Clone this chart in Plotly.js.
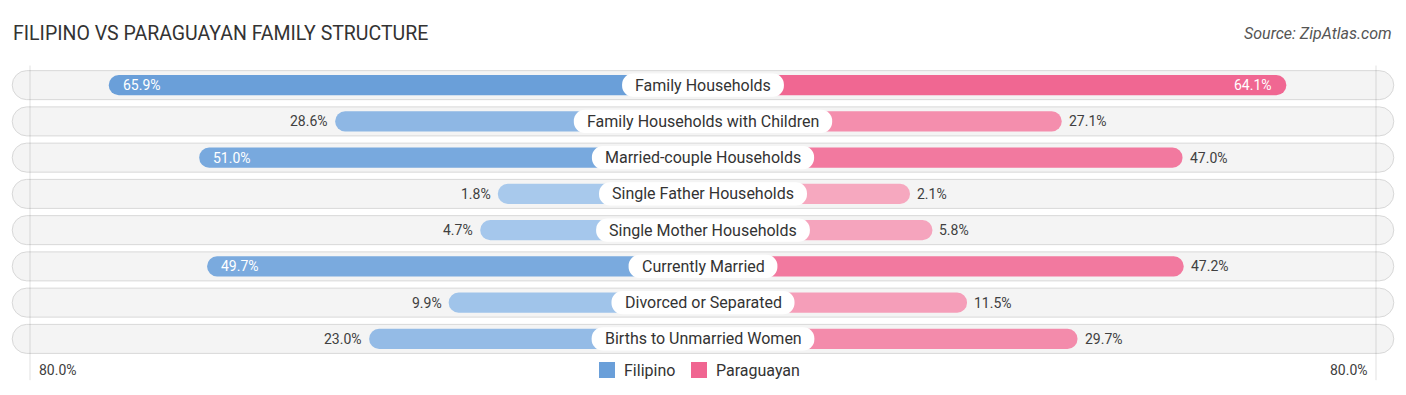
<!DOCTYPE html>
<html>
<head>
<meta charset="utf-8">
<script src="https://cdn.plot.ly/plotly-3.0.1.min.js"></script>
<style>
  html, body { margin: 0; padding: 0; background: #ffffff; }
  #chart { width: 1406px; height: 395px; }
</style>
</head>
<body>
<div id="chart"></div>
<script>
// ---- data ----
const categories = [
  "Family Households",
  "Family Households with Children",
  "Married-couple Households",
  "Single Father Households",
  "Single Mother Households",
  "Currently Married",
  "Divorced or Separated",
  "Births to Unmarried Women"
];
const filipino   = [65.9, 28.6, 51.0, 1.8, 4.7, 49.7, 9.9, 23.0];
const paraguayan = [64.1, 27.1, 47.0, 2.1, 5.8, 47.2, 11.5, 29.7];
const seriesNames = ["Filipino", "Paraguayan"];
const seriesColors = ["#6a9fd9", "#f06591"];
const axisMaxLabel = "80.0%";

// ---- style ----
const W = 1406, H = 395;
const MT = 67, MB = 38, PH = H - MT - MB;
const PX_PER_UNIT = 6.07;            // pixels per percentage point
const OFFSET = 32;                   // bar starts under the centre label
const R = (W / 2) / PX_PER_UNIT;     // half range of x axis
const PILL_HALF = 113.8;             // background pill half width (units)
const INSIDE_THRESHOLD = 48;
const py = p => (H - MB - p) / PH;   // pixel y -> paper y

function mix(c1, c2, t) {
  const a = c1.match(/\w\w/g).map(h => parseInt(h, 16));
  const b = c2.match(/\w\w/g).map(h => parseInt(h, 16));
  return "rgb(" + a.map((v, i) => Math.round(v + (b[i] - v) * t)).join(",") + ")";
}
const maxV = Math.max(...filipino, ...paraguayan);
const blueColors = filipino.map(v => mix("aacaed", "6a9fd9", v / maxV));
const pinkColors = paraguayan.map(v => mix("f6aac1", "f06591", v / maxV));

const yIdx = categories.map((_, i) => i);

// measure label widths
const cv = document.createElement("canvas").getContext("2d");
cv.font = "16px Roboto";
const labelW = categories.map(c => (cv.measureText(c).width + 26) / PX_PER_UNIT);

const traces = [
  { // background pills
    type: "bar", orientation: "h", y: yIdx,
    x: categories.map(() => 2 * PILL_HALF), base: categories.map(() => -PILL_HALF),
    width: 0.8, marker: { color: "#f4f4f4", cornerradius: 15, line: { color: "#d8d8d8", width: 1 } },
    showlegend: false, hoverinfo: "skip"
  },
  {
    type: "bar", orientation: "h", name: seriesNames[0], y: yIdx,
    x: filipino.map(v => -(v + OFFSET)), base: 0,
    width: 0.56, marker: { color: blueColors, cornerradius: 10 },
    showlegend: false, hoverinfo: "skip"
  },
  {
    type: "bar", orientation: "h", name: seriesNames[1], y: yIdx,
    x: paraguayan.map(v => v + OFFSET), base: 0,
    width: 0.56, marker: { color: pinkColors, cornerradius: 10 },
    showlegend: false, hoverinfo: "skip"
  },
  { // label pills
    type: "bar", orientation: "h", y: yIdx,
    x: labelW, base: labelW.map(w => -w / 2),
    width: 0.64, marker: { color: "#ffffff", cornerradius: 12 },
    showlegend: false, hoverinfo: "skip"
  }
];

const annotations = [];
categories.forEach((c, i) => {
  annotations.push({ x: 0, y: i, xref: "x", yref: "y", text: c, showarrow: false,
    font: { family: "Roboto", size: 16, color: "#333333" }, xanchor: "center", yanchor: "middle" });
  const fv = filipino[i], pv = paraguayan[i];
  const fIn = fv > INSIDE_THRESHOLD, pIn = pv > INSIDE_THRESHOLD;
  annotations.push({ x: -(fv + OFFSET), y: i, xref: "x", yref: "y", text: fv.toFixed(1) + "%",
    showarrow: false, xanchor: fIn ? "left" : "right", xshift: fIn ? 12 : -5, yanchor: "middle",
    font: { family: "Roboto", size: 14, color: fIn ? "#ffffff" : "#404040" } });
  annotations.push({ x: pv + OFFSET, y: i, xref: "x", yref: "y", text: pv.toFixed(1) + "%",
    showarrow: false, xanchor: pIn ? "right" : "left", xshift: pIn ? -12 : 5, yanchor: "middle",
    font: { family: "Roboto", size: 14, color: pIn ? "#ffffff" : "#404040" } });
});
annotations.push({ x: 37 / W, y: py(370), xref: "paper", yref: "paper", text: axisMaxLabel,
  showarrow: false, xanchor: "left", yanchor: "middle", font: { family: "Roboto", size: 14, color: "#404040" } });
annotations.push({ x: 1370 / W, y: py(370), xref: "paper", yref: "paper", text: axisMaxLabel,
  showarrow: false, xanchor: "right", yanchor: "middle", font: { family: "Roboto", size: 14, color: "#404040" } });
annotations.push({ x: 1394 / W, y: py(33), xref: "paper", yref: "paper",
  text: "<i>Source: ZipAtlas.com</i>", showarrow: false, xanchor: "right", yanchor: "middle",
  font: { family: "Roboto", size: 16, color: "#555555" } });
// legend (drawn manually for larger swatches)
const legendX = [599, 691];
const shapes = [];
seriesNames.forEach((n, k) => {
  shapes.push({ type: "rect", xref: "paper", yref: "paper",
    x0: legendX[k] / W, x1: (legendX[k] + 16) / W, y0: py(378), y1: py(362),
    fillcolor: seriesColors[k], line: { width: 0 } });
  annotations.push({ x: (legendX[k] + 23) / W, y: py(370), xref: "paper", yref: "paper",
    text: n, showarrow: false, xanchor: "left", yanchor: "middle",
    font: { family: "Roboto", size: 16, color: "#333333" } });
});
[-1, 1].forEach(s => shapes.push({ type: "line", xref: "x", yref: "paper", layer: "above",
  x0: s * (W / 2 - 30) / PX_PER_UNIT, x1: s * (W / 2 - 30) / PX_PER_UNIT, y0: 1.005, y1: -0.08,
  line: { color: "rgba(0,0,0,0.12)", width: 1 } }));

const layout = {
  width: W, height: H,
  margin: { l: 0, r: 0, t: MT, b: MB },
  paper_bgcolor: "#ffffff", plot_bgcolor: "#ffffff",
  barmode: "overlay",
  title: { text: "FILIPINO VS PARAGUAYAN FAMILY STRUCTURE", x: 13 / W, xanchor: "left",
    y: 1 - 33 / H, yanchor: "middle", font: { family: "Roboto", size: 19.5, color: "#333333" } },
  xaxis: { range: [-R, R], visible: false, fixedrange: true },
  yaxis: { range: [7.5, -0.5], visible: false, fixedrange: true },
  showlegend: false,
  shapes: shapes,
  annotations: annotations
};

Plotly.newPlot("chart", traces, layout, { displayModeBar: false, staticPlot: true });
</script>
</body>
</html>
